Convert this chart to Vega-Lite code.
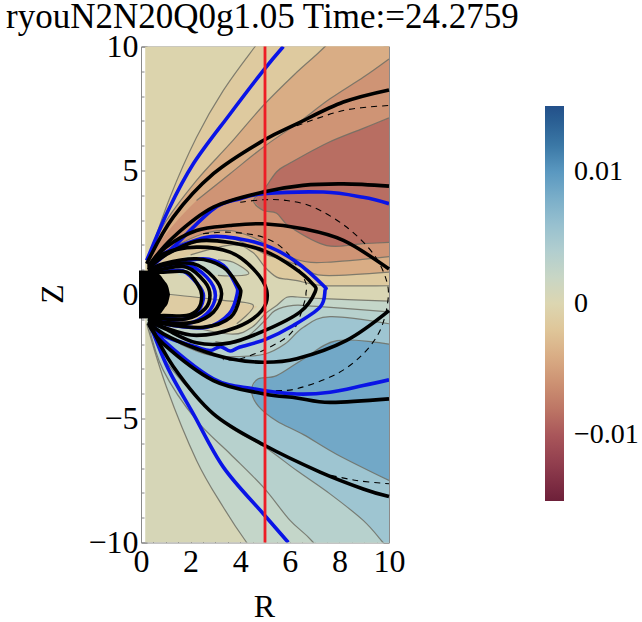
{"$schema":"https://vega.github.io/schema/vega-lite/v6.json","width":248,"height":496,"autosize":"none","padding":{"left":141,"top":46.5,"right":253,"bottom":79.5},"background":"white",
"title":{"text":"ryouN2N20Q0g1.05 Time:=24.2759","anchor":"start","frame":"group","dx":-135,"dy":20,"offset":16,"font":"Liberation Serif","fontSize":35,"fontWeight":"normal","color":"black"},
"config":{"view":{"stroke":null}},
"datasets":{
"bands":[
{"b":"a0","L":-0.0003,"R":0.17,"Z":10,"Z2":0},{"b":"a0","L":-0.0003,"R":10,"Z":10,"Z2":0},
{"b":"a1","L":0.0006,"R":0.17,"Z":0,"Z2":-10},{"b":"a1","L":0.0006,"R":10,"Z":0,"Z2":-10},
{"b":"c1","L":-0.0015,"R":0.23,"Z":1.24,"Z2":0},{"b":"c1","L":-0.0015,"R":1.17,"Z":3.92,"Z2":0},{"b":"c1","L":-0.0015,"R":2.24,"Z":6.34,"Z2":0},{"b":"c1","L":-0.0015,"R":3.32,"Z":8.23,"Z2":0},{"b":"c1","L":-0.0015,"R":4.6,"Z":10,"Z2":0},{"b":"c1","L":-0.0015,"R":6,"Z":11.8,"Z2":0},{"b":"c1","L":-0.0015,"R":10,"Z":15,"Z2":0},
{"b":"c2","L":-0.004,"R":0.3,"Z":1.3,"Z2":0},{"b":"c2","L":-0.004,"R":0.9,"Z":2.78,"Z2":0},{"b":"c2","L":-0.004,"R":2.24,"Z":4.6,"Z2":0},{"b":"c2","L":-0.004,"R":3.59,"Z":6.08,"Z2":0},{"b":"c2","L":-0.004,"R":4.93,"Z":7.62,"Z2":0},{"b":"c2","L":-0.004,"R":6.28,"Z":8.96,"Z2":0},{"b":"c2","L":-0.004,"R":7.42,"Z":10,"Z2":0},{"b":"c2","L":-0.004,"R":9,"Z":11.7,"Z2":0},{"b":"c2","L":-0.004,"R":10,"Z":12.8,"Z2":0},
{"b":"c3","L":-0.0058,"R":0.4,"Z":1.35,"Z2":0},{"b":"c3","L":-0.0058,"R":0.9,"Z":2.31,"Z2":0},{"b":"c3","L":-0.0058,"R":2.24,"Z":3.79,"Z2":0},{"b":"c3","L":-0.0058,"R":3.59,"Z":4.87,"Z2":0},{"b":"c3","L":-0.0058,"R":4.93,"Z":5.94,"Z2":0},{"b":"c3","L":-0.0058,"R":6.28,"Z":6.88,"Z2":0},{"b":"c3","L":-0.0058,"R":7.62,"Z":7.89,"Z2":0},{"b":"c3","L":-0.0058,"R":8.96,"Z":8.76,"Z2":0},{"b":"c3","L":-0.0058,"R":10,"Z":9.5,"Z2":0},
{"b":"d1","L":-0.0085,"R":4.53,"Z":3.79,"Z2":3.79},{"b":"d1","L":-0.0085,"R":4.93,"Z":4.19,"Z2":3.39},{"b":"d1","L":-0.0085,"R":5.47,"Z":4.95,"Z2":3.28},{"b":"d1","L":-0.0085,"R":6.01,"Z":5.3,"Z2":2.72},{"b":"d1","L":-0.0085,"R":7.49,"Z":6.1,"Z2":1.97},{"b":"d1","L":-0.0085,"R":8.96,"Z":6.7,"Z2":2.05},{"b":"d1","L":-0.0085,"R":10,"Z":7.12,"Z2":2.1},
{"b":"e1","L":-0.004,"R":0.4,"Z":1.2,"Z2":0},{"b":"e1","L":-0.004,"R":1.3,"Z":1.91,"Z2":0},{"b":"e1","L":-0.004,"R":2.51,"Z":2.45,"Z2":0},{"b":"e1","L":-0.004,"R":3.59,"Z":2.58,"Z2":0},{"b":"e1","L":-0.004,"R":4.66,"Z":2.24,"Z2":0},{"b":"e1","L":-0.004,"R":5.47,"Z":1.77,"Z2":0},{"b":"e1","L":-0.004,"R":6.41,"Z":1.37,"Z2":0},{"b":"e1","L":-0.004,"R":7.49,"Z":1.3,"Z2":0},{"b":"e1","L":-0.004,"R":10,"Z":1.53,"Z2":0},
{"b":"e2","L":-0.0015,"R":0.4,"Z":1.1,"Z2":0},{"b":"e2","L":-0.0015,"R":1.3,"Z":1.7,"Z2":0},{"b":"e2","L":-0.0015,"R":2.5,"Z":2.24,"Z2":0},{"b":"e2","L":-0.0015,"R":3.6,"Z":2.3,"Z2":0},{"b":"e2","L":-0.0015,"R":5,"Z":1.64,"Z2":0},{"b":"e2","L":-0.0015,"R":5.6,"Z":1.44,"Z2":0},{"b":"e2","L":-0.0015,"R":6.55,"Z":1.1,"Z2":0},{"b":"e2","L":-0.0015,"R":7.35,"Z":0.77,"Z2":0},{"b":"e2","L":-0.0015,"R":10,"Z":0.9,"Z2":0},
{"b":"f1","L":0.0024,"R":0.23,"Z":-1.18,"Z2":0},{"b":"f1","L":0.0024,"R":1.03,"Z":-3.74,"Z2":0},{"b":"f1","L":0.0024,"R":2.24,"Z":-6.69,"Z2":0},{"b":"f1","L":0.0024,"R":3.32,"Z":-8.58,"Z2":0},{"b":"f1","L":0.0024,"R":4.26,"Z":-10,"Z2":0},{"b":"f1","L":0.0024,"R":6,"Z":-12.3,"Z2":0},{"b":"f1","L":0.0024,"R":10,"Z":-17,"Z2":0},
{"b":"f2","L":0.0035,"R":0.3,"Z":-1.2,"Z2":0},{"b":"f2","L":0.0035,"R":0.9,"Z":-3.06,"Z2":0},{"b":"f2","L":0.0035,"R":2.24,"Z":-5.08,"Z2":0},{"b":"f2","L":0.0035,"R":3.59,"Z":-6.42,"Z2":0},{"b":"f2","L":0.0035,"R":4.93,"Z":-7.77,"Z2":0},{"b":"f2","L":0.0035,"R":6.01,"Z":-9.11,"Z2":0},{"b":"f2","L":0.0035,"R":6.95,"Z":-10,"Z2":0},{"b":"f2","L":0.0035,"R":8.5,"Z":-12,"Z2":0},{"b":"f2","L":0.0035,"R":10,"Z":-14,"Z2":0},
{"b":"f3","L":0.0055,"R":0.4,"Z":-1.2,"Z2":0},{"b":"f3","L":0.0055,"R":0.9,"Z":-2.53,"Z2":0},{"b":"f3","L":0.0055,"R":2.24,"Z":-4.14,"Z2":0},{"b":"f3","L":0.0055,"R":3.59,"Z":-5.35,"Z2":0},{"b":"f3","L":0.0055,"R":5,"Z":-6.16,"Z2":0},{"b":"f3","L":0.0055,"R":6.28,"Z":-7.1,"Z2":0},{"b":"f3","L":0.0055,"R":7.62,"Z":-8.04,"Z2":0},{"b":"f3","L":0.0055,"R":8.96,"Z":-9.11,"Z2":0},{"b":"f3","L":0.0055,"R":9.76,"Z":-10,"Z2":0},{"b":"f3","L":0.0055,"R":10,"Z":-10.3,"Z2":0},
{"b":"g1","L":0.0085,"R":4.46,"Z":-3.87,"Z2":-3.87},{"b":"g1","L":0.0085,"R":4.73,"Z":-3.4,"Z2":-4.5},{"b":"g1","L":0.0085,"R":5.47,"Z":-3.27,"Z2":-5.1},{"b":"g1","L":0.0085,"R":6.55,"Z":-2.6,"Z2":-5.65},{"b":"g1","L":0.0085,"R":7.9,"Z":-1.86,"Z2":-6.45},{"b":"g1","L":0.0085,"R":10,"Z":-2,"Z2":-7.5},
{"b":"h1","L":0.0035,"R":0.5,"Z":-1.1,"Z2":0},{"b":"h1","L":0.0035,"R":1.57,"Z":-1.99,"Z2":0},{"b":"h1","L":0.0035,"R":2.78,"Z":-2.45,"Z2":0},{"b":"h1","L":0.0035,"R":3.99,"Z":-2.5,"Z2":0},{"b":"h1","L":0.0035,"R":5,"Z":-2.4,"Z2":0},{"b":"h1","L":0.0035,"R":5.8,"Z":-2,"Z2":0},{"b":"h1","L":0.0035,"R":6.55,"Z":-1.32,"Z2":0},{"b":"h1","L":0.0035,"R":7.62,"Z":-0.89,"Z2":0},{"b":"h1","L":0.0035,"R":10,"Z":-1.18,"Z2":0},
{"b":"h2","L":0.0024,"R":0.5,"Z":-1,"Z2":0},{"b":"h2","L":0.0024,"R":1.5,"Z":-1.5,"Z2":0},{"b":"h2","L":0.0024,"R":3,"Z":-1.9,"Z2":0},{"b":"h2","L":0.0024,"R":4,"Z":-1.9,"Z2":0},{"b":"h2","L":0.0024,"R":5,"Z":-1.05,"Z2":0},{"b":"h2","L":0.0024,"R":5.4,"Z":-0.65,"Z2":0},{"b":"h2","L":0.0024,"R":6.14,"Z":-0.44,"Z2":0},{"b":"h2","L":0.0024,"R":7.09,"Z":-0.48,"Z2":0},{"b":"h2","L":0.0024,"R":10,"Z":-0.7,"Z2":0},
{"b":"j1","L":0.0003,"R":0.6,"Z":1,"Z2":-0.9},{"b":"j1","L":0.0003,"R":2,"Z":1.6,"Z2":-1.3},{"b":"j1","L":0.0003,"R":3.7,"Z":2,"Z2":-1.6},{"b":"j1","L":0.0003,"R":4.5,"Z":1.7,"Z2":-1.3},{"b":"j1","L":0.0003,"R":5,"Z":1.1,"Z2":-0.78},{"b":"j1","L":0.0003,"R":5.47,"Z":0.7,"Z2":-0.44},{"b":"j1","L":0.0003,"R":5.88,"Z":0.62,"Z2":-0.11},{"b":"j1","L":0.0003,"R":6.3,"Z":0.56,"Z2":-0.1},{"b":"j1","L":0.0003,"R":7.35,"Z":0.36,"Z2":-0.17},{"b":"j1","L":0.0003,"R":10,"Z":0.36,"Z2":-0.27},
{"b":"k1","L":0.0022,"R":1.5,"Z":1.3,"Z2":0.77},{"b":"k1","L":0.0022,"R":3.1,"Z":1.4,"Z2":0.77},{"b":"k1","L":0.0022,"R":3.72,"Z":1.3,"Z2":0.75},{"b":"k1","L":0.0022,"R":4.35,"Z":0.85,"Z2":0.85},
{"b":"k2","L":-0.0012,"R":0.7,"Z":-0.03,"Z2":-0.9},{"b":"k2","L":-0.0012,"R":1.98,"Z":-0.08,"Z2":-1.25},{"b":"k2","L":-0.0012,"R":3.32,"Z":-0.24,"Z2":-1.35},{"b":"k2","L":-0.0012,"R":3.86,"Z":-0.3,"Z2":-1.18},{"b":"k2","L":-0.0012,"R":4.53,"Z":-0.44,"Z2":-0.6},{"b":"k2","L":-0.0012,"R":4.7,"Z":-0.5,"Z2":-0.5}
],
"contours":[
{"s":"c1","R":0.23,"Z":1.24},{"s":"c1","R":1.17,"Z":3.92},{"s":"c1","R":2.24,"Z":6.34},{"s":"c1","R":3.32,"Z":8.23},{"s":"c1","R":4.6,"Z":10},{"s":"c1","R":6,"Z":11.8},{"s":"c1","R":10,"Z":15},
{"s":"c2","R":0.3,"Z":1.3},{"s":"c2","R":0.9,"Z":2.78},{"s":"c2","R":2.24,"Z":4.6},{"s":"c2","R":3.59,"Z":6.08},{"s":"c2","R":4.93,"Z":7.62},{"s":"c2","R":6.28,"Z":8.96},{"s":"c2","R":7.42,"Z":10},{"s":"c2","R":9,"Z":11.7},{"s":"c2","R":10,"Z":12.8},
{"s":"c3","R":2.24,"Z":3.79},{"s":"c3","R":3.59,"Z":4.87},{"s":"c3","R":4.93,"Z":5.94},{"s":"c3","R":6.28,"Z":6.88},{"s":"c3","R":7.62,"Z":7.89},{"s":"c3","R":8.96,"Z":8.76},{"s":"c3","R":10,"Z":9.5},
{"s":"d1","R":10,"Z":7.12},{"s":"d1","R":8.96,"Z":6.7},{"s":"d1","R":7.49,"Z":6.1},{"s":"d1","R":6.01,"Z":5.3},{"s":"d1","R":5.47,"Z":4.95},{"s":"d1","R":4.93,"Z":4.19},{"s":"d1","R":4.53,"Z":3.79},{"s":"d1","R":4.93,"Z":3.39},{"s":"d1","R":5.47,"Z":3.28},{"s":"d1","R":6.01,"Z":2.72},{"s":"d1","R":7.49,"Z":1.97},{"s":"d1","R":8.96,"Z":2.05},{"s":"d1","R":10,"Z":2.1},
{"s":"e1","R":1.3,"Z":1.91},{"s":"e1","R":2.51,"Z":2.45},{"s":"e1","R":3.59,"Z":2.58},{"s":"e1","R":4.66,"Z":2.24},{"s":"e1","R":5.47,"Z":1.77},{"s":"e1","R":6.41,"Z":1.37},{"s":"e1","R":7.49,"Z":1.3},{"s":"e1","R":10,"Z":1.53},
{"s":"e2","R":1.3,"Z":1.7},{"s":"e2","R":2.5,"Z":2.24},{"s":"e2","R":3.6,"Z":2.3},{"s":"e2","R":5,"Z":1.64},{"s":"e2","R":5.6,"Z":1.44},{"s":"e2","R":6.55,"Z":1.1},{"s":"e2","R":7.35,"Z":0.77},{"s":"e2","R":10,"Z":0.9},
{"s":"j1","R":2,"Z":1.6},{"s":"j1","R":3.7,"Z":2},{"s":"j1","R":4.5,"Z":1.7},{"s":"j1","R":5,"Z":1.1},{"s":"j1","R":5.47,"Z":0.7},{"s":"j1","R":5.88,"Z":0.62},{"s":"j1","R":6.3,"Z":0.56},{"s":"j1","R":7.35,"Z":0.36},{"s":"j1","R":10,"Z":0.36},
{"s":"j2","R":2,"Z":-1.3},{"s":"j2","R":3.7,"Z":-1.6},{"s":"j2","R":4.5,"Z":-1.3},{"s":"j2","R":5,"Z":-0.78},{"s":"j2","R":5.47,"Z":-0.44},{"s":"j2","R":5.88,"Z":-0.11},{"s":"j2","R":6.3,"Z":-0.1},{"s":"j2","R":7.35,"Z":-0.17},{"s":"j2","R":10,"Z":-0.27},
{"s":"k1","R":3.1,"Z":0.77},{"s":"k1","R":3.72,"Z":0.75},{"s":"k1","R":4.35,"Z":0.85},{"s":"k1","R":3.72,"Z":1.3},{"s":"k1","R":3.1,"Z":1.4},
{"s":"k2","R":0.85,"Z":0.03},{"s":"k2","R":1.98,"Z":-0.08},{"s":"k2","R":3.32,"Z":-0.24},{"s":"k2","R":4.53,"Z":-0.44},{"s":"k2","R":3.86,"Z":-1.18},
{"s":"f1","R":0.23,"Z":-1.18},{"s":"f1","R":1.03,"Z":-3.74},{"s":"f1","R":2.24,"Z":-6.69},{"s":"f1","R":3.32,"Z":-8.58},{"s":"f1","R":4.26,"Z":-10},{"s":"f1","R":6,"Z":-12.3},{"s":"f1","R":10,"Z":-17},
{"s":"f2","R":0.3,"Z":-1.2},{"s":"f2","R":0.9,"Z":-3.06},{"s":"f2","R":2.24,"Z":-5.08},{"s":"f2","R":3.59,"Z":-6.42},{"s":"f2","R":4.93,"Z":-7.77},{"s":"f2","R":6.01,"Z":-9.11},{"s":"f2","R":6.95,"Z":-10},{"s":"f2","R":8.5,"Z":-12},{"s":"f2","R":10,"Z":-14},
{"s":"f3","R":0.4,"Z":-1.2},{"s":"f3","R":0.9,"Z":-2.53},{"s":"f3","R":2.24,"Z":-4.14},{"s":"f3","R":3.59,"Z":-5.35},{"s":"f3","R":5,"Z":-6.16},{"s":"f3","R":6.28,"Z":-7.1},{"s":"f3","R":7.62,"Z":-8.04},{"s":"f3","R":8.96,"Z":-9.11},{"s":"f3","R":9.76,"Z":-10},{"s":"f3","R":10,"Z":-10.3},
{"s":"g1","R":10,"Z":-7.5},{"s":"g1","R":7.9,"Z":-6.45},{"s":"g1","R":6.55,"Z":-5.65},{"s":"g1","R":5.47,"Z":-5.1},{"s":"g1","R":4.73,"Z":-4.5},{"s":"g1","R":4.46,"Z":-3.87},{"s":"g1","R":4.73,"Z":-3.4},{"s":"g1","R":5.47,"Z":-3.27},{"s":"g1","R":6.55,"Z":-2.6},{"s":"g1","R":7.9,"Z":-1.86},{"s":"g1","R":10,"Z":-2},
{"s":"h1","R":1.57,"Z":-1.99},{"s":"h1","R":2.78,"Z":-2.45},{"s":"h1","R":3.99,"Z":-2.5},{"s":"h1","R":5,"Z":-2.4},{"s":"h1","R":5.8,"Z":-2},{"s":"h1","R":6.55,"Z":-1.32},{"s":"h1","R":7.62,"Z":-0.89},{"s":"h1","R":10,"Z":-1.18},
{"s":"h2","R":3,"Z":-1.9},{"s":"h2","R":4,"Z":-1.9},{"s":"h2","R":5,"Z":-1.05},{"s":"h2","R":5.4,"Z":-0.65},{"s":"h2","R":6.14,"Z":-0.44},{"s":"h2","R":7.09,"Z":-0.48},{"s":"h2","R":10,"Z":-0.7}
],
"dashed":[
{"s":"a","R":6.28,"Z":6.8},{"s":"a","R":8.16,"Z":7.42},{"s":"a","R":10,"Z":7.62},
{"s":"b","R":7.22,"Z":-7.2},{"s":"b","R":8.7,"Z":-7.5},{"s":"b","R":10,"Z":-7.63},
{"s":"c","R":4,"Z":3.72},{"s":"c","R":4.93,"Z":3.82},{"s":"c","R":5.87,"Z":3.79},{"s":"c","R":6.95,"Z":3.52},{"s":"c","R":8.29,"Z":2.72},{"s":"c","R":9.37,"Z":1.64},{"s":"c","R":9.9,"Z":0.56},{"s":"c","R":9.95,"Z":-0.3},{"s":"c","R":9.64,"Z":-1.45},{"s":"c","R":8.96,"Z":-2.39},{"s":"c","R":7.89,"Z":-3.2},{"s":"c","R":6.28,"Z":-3.8},{"s":"c","R":5.2,"Z":-3.87},{"s":"c","R":4.4,"Z":-3.8},
{"s":"d","R":2.5,"Z":2.45},{"s":"d","R":3.59,"Z":2.51},{"s":"d","R":4.93,"Z":2.31},{"s":"d","R":5.87,"Z":1.71},{"s":"d","R":6.61,"Z":0.56},{"s":"d","R":6.65,"Z":0.03},{"s":"d","R":6.61,"Z":-0.24},{"s":"d","R":6.14,"Z":-1.45},{"s":"d","R":5.2,"Z":-2.12},{"s":"d","R":3.99,"Z":-2.6},{"s":"d","R":3.3,"Z":-2.62}
],
"blue":[
{"s":"a1","R":0.23,"Z":1.37},{"s":"a1","R":1.1,"Z":3.4},{"s":"a1","R":2.11,"Z":5.27},{"s":"a1","R":3.59,"Z":7.28},{"s":"a1","R":4.93,"Z":9.03},{"s":"a1","R":5.74,"Z":10},
{"s":"a2","R":0.36,"Z":-1.18},{"s":"a2","R":1.1,"Z":-3},{"s":"a2","R":2.11,"Z":-4.81},{"s":"a2","R":3.32,"Z":-6.96},{"s":"a2","R":4.93,"Z":-8.84},{"s":"a2","R":5.94,"Z":-10},
{"s":"b1","R":0.4,"Z":1.1},{"s":"b1","R":1.3,"Z":1.91},{"s":"b1","R":2.92,"Z":3.45},{"s":"b1","R":4,"Z":3.86},{"s":"b1","R":4.93,"Z":4.06},{"s":"b1","R":7.35,"Z":4.13},{"s":"b1","R":8.96,"Z":3.92},{"s":"b1","R":10,"Z":3.66},
{"s":"b2","R":0.4,"Z":-1.1},{"s":"b2","R":0.9,"Z":-1.85},{"s":"b2","R":2.92,"Z":-3.4},{"s":"b2","R":4.53,"Z":-3.8},{"s":"b2","R":6.28,"Z":-4.01},{"s":"b2","R":7.62,"Z":-3.94},{"s":"b2","R":8.96,"Z":-3.67},{"s":"b2","R":10,"Z":-3.44},
{"s":"c","R":0.4,"Z":1.05},{"s":"c","R":0.9,"Z":1.64},{"s":"c","R":2.65,"Z":2.31},{"s":"c","R":3.99,"Z":2.24},{"s":"c","R":5.2,"Z":1.91},{"s":"c","R":6.28,"Z":1.3},{"s":"c","R":7.35,"Z":0.36},{"s":"c","R":7.42,"Z":0.16},{"s":"c","R":7.22,"Z":-0.51},{"s":"c","R":6.14,"Z":-1.25},{"s":"c","R":5,"Z":-1.82},{"s":"c","R":3.99,"Z":-2.12},{"s":"c","R":3.59,"Z":-2.28},{"s":"c","R":3.2,"Z":-2.1},{"s":"c","R":2.78,"Z":-2.26},{"s":"c","R":2.24,"Z":-2.12},{"s":"c","R":0.9,"Z":-1.65},{"s":"c","R":0.4,"Z":-1.05},
{"s":"d","R":0.4,"Z":1},{"s":"d","R":1.3,"Z":1.24},{"s":"d","R":2.51,"Z":1.44},{"s":"d","R":3.32,"Z":1.17},{"s":"d","R":3.8,"Z":0.43},{"s":"d","R":3.88,"Z":0.03},{"s":"d","R":3.55,"Z":-0.78},{"s":"d","R":2.65,"Z":-1.32},{"s":"d","R":1.3,"Z":-1.25},{"s":"d","R":0.4,"Z":-1},
{"s":"e","R":0.4,"Z":0.95},{"s":"e","R":0.9,"Z":1.03},{"s":"e","R":1.84,"Z":1.2},{"s":"e","R":2.65,"Z":0.7},{"s":"e","R":3,"Z":-0.04},{"s":"e","R":2.65,"Z":-0.78},{"s":"e","R":1.84,"Z":-1.18},{"s":"e","R":0.9,"Z":-1.05},{"s":"e","R":0.4,"Z":-0.95},
{"s":"f","R":0.4,"Z":0.9},{"s":"f","R":0.9,"Z":0.92},{"s":"f","R":1.7,"Z":0.95},{"s":"f","R":2.3,"Z":0.4},{"s":"f","R":2.52,"Z":-0.05},{"s":"f","R":2.3,"Z":-0.65},{"s":"f","R":1.7,"Z":-1},{"s":"f","R":0.9,"Z":-0.9},{"s":"f","R":0.4,"Z":-0.9}
],
"black":[
{"s":"a1","R":0.23,"Z":1.24},{"s":"a1","R":1.3,"Z":3.12},{"s":"a1","R":2.92,"Z":4.87},{"s":"a1","R":4.93,"Z":6.21},{"s":"a1","R":6.28,"Z":6.88},{"s":"a1","R":8.16,"Z":7.76},{"s":"a1","R":10,"Z":8.25},
{"s":"a2","R":0.36,"Z":-1.18},{"s":"a2","R":1.3,"Z":-2.9},{"s":"a2","R":2.92,"Z":-4.81},{"s":"a2","R":5,"Z":-6.09},{"s":"a2","R":7.22,"Z":-7.16},{"s":"a2","R":8.96,"Z":-7.84},{"s":"a2","R":10,"Z":-8.15},
{"s":"b1","R":0.3,"Z":1.15},{"s":"b1","R":1.3,"Z":2.31},{"s":"b1","R":2.92,"Z":3.52},{"s":"b1","R":4.93,"Z":4.13},{"s":"b1","R":6.53,"Z":4.4},{"s":"b1","R":8.16,"Z":4.46},{"s":"b1","R":10,"Z":4.37},
{"s":"b2","R":0.3,"Z":-1.15},{"s":"b2","R":0.9,"Z":-1.99},{"s":"b2","R":2.92,"Z":-3.47},{"s":"b2","R":4.93,"Z":-4},{"s":"b2","R":6.28,"Z":-4.17},{"s":"b2","R":7.62,"Z":-4.35},{"s":"b2","R":10,"Z":-4.21},
{"s":"c1","R":0.3,"Z":1.1},{"s":"c1","R":1,"Z":1.9},{"s":"c1","R":2.24,"Z":2.58},{"s":"c1","R":3.59,"Z":2.78},{"s":"c1","R":4.93,"Z":2.85},{"s":"c1","R":6.53,"Z":2.65},{"s":"c1","R":8.16,"Z":2.18},{"s":"c1","R":10,"Z":1.03},
{"s":"c2","R":0.3,"Z":-1.1},{"s":"c2","R":0.9,"Z":-1.59},{"s":"c2","R":2.24,"Z":-2.19},{"s":"c2","R":3.59,"Z":-2.59},{"s":"c2","R":4.93,"Z":-2.73},{"s":"c2","R":6.28,"Z":-2.59},{"s":"c2","R":8.29,"Z":-1.85},{"s":"c2","R":10,"Z":-0.65},
{"s":"d","R":0.3,"Z":1.05},{"s":"d","R":1,"Z":1.6},{"s":"d","R":2.24,"Z":2.15},{"s":"d","R":3.59,"Z":2.1},{"s":"d","R":5,"Z":1.75},{"s":"d","R":6.14,"Z":1.1},{"s":"d","R":6.9,"Z":0.45},{"s":"d","R":7.02,"Z":0.1},{"s":"d","R":6.41,"Z":-0.71},{"s":"d","R":5,"Z":-1.45},{"s":"d","R":3.59,"Z":-1.95},{"s":"d","R":2.24,"Z":-1.95},{"s":"d","R":1,"Z":-1.4},{"s":"d","R":0.3,"Z":-1.05},
{"s":"e","R":0.3,"Z":1},{"s":"e","R":0.9,"Z":1.64},{"s":"e","R":2.24,"Z":1.91},{"s":"e","R":3.59,"Z":1.71},{"s":"e","R":4.53,"Z":1.03},{"s":"e","R":5.07,"Z":0.16},{"s":"e","R":4.87,"Z":-0.65},{"s":"e","R":3.86,"Z":-1.32},{"s":"e","R":2.24,"Z":-1.65},{"s":"e","R":0.9,"Z":-1.32},{"s":"e","R":0.3,"Z":-1},
{"s":"f","R":0.3,"Z":0.95},{"s":"f","R":0.9,"Z":1.24},{"s":"f","R":2.24,"Z":1.44},{"s":"f","R":3.32,"Z":1.1},{"s":"f","R":3.92,"Z":0.36},{"s":"f","R":4,"Z":-0.04},{"s":"f","R":3.62,"Z":-0.91},{"s":"f","R":2.51,"Z":-1.32},{"s":"f","R":0.9,"Z":-1.18},{"s":"f","R":0.3,"Z":-0.95},
{"s":"g","R":0.3,"Z":0.9},{"s":"g","R":0.9,"Z":1.17},{"s":"g","R":2.11,"Z":1.24},{"s":"g","R":2.92,"Z":0.7},{"s":"g","R":3.25,"Z":0.03},{"s":"g","R":2.92,"Z":-0.71},{"s":"g","R":2.11,"Z":-1.12},{"s":"g","R":0.9,"Z":-1.12},{"s":"g","R":0.3,"Z":-0.9},
{"s":"h","R":0.3,"Z":0.9},{"s":"h","R":0.9,"Z":1.03},{"s":"h","R":1.84,"Z":1.1},{"s":"h","R":2.58,"Z":0.5},{"s":"h","R":2.78,"Z":-0.04},{"s":"h","R":2.58,"Z":-0.58},{"s":"h","R":1.84,"Z":-0.98},{"s":"h","R":0.9,"Z":-0.98},{"s":"h","R":0.3,"Z":-0.9},
{"s":"i","R":0.3,"Z":0.9},{"s":"i","R":0.9,"Z":0.9},{"s":"i","R":1.84,"Z":0.9},{"s":"i","R":2.31,"Z":0.36},{"s":"i","R":2.45,"Z":-0.04},{"s":"i","R":2.31,"Z":-0.58},{"s":"i","R":1.84,"Z":-0.85},{"s":"i","R":0.9,"Z":-0.85},{"s":"i","R":0.3,"Z":-0.9}
],
"blob":[{"R":-0.08,"Z":0.97,"Z2":-0.97},{"R":0.3,"Z":0.96,"Z2":-0.96},{"R":0.7,"Z":0.85,"Z2":-0.85},{"R":0.95,"Z":0.55,"Z2":-0.55},{"R":1.1,"Z":0.3,"Z2":-0.3},{"R":1.17,"Z":0,"Z2":0}],
"red":[{"R":5,"Z":-10},{"R":5,"Z":10}]
},
"layer":[
{"data":{"name":"bands"},"mark":{"type":"area","orient":"vertical","interpolate":"cardinal","clip":true},
"encoding":{
"x":{"field":"R","type":"quantitative","scale":{"domain":[0,10],"nice":false,"zero":false},
 "axis":{"orient":"bottom","title":"R","titleFont":"Liberation Serif","titleFontSize":32,"titleFontWeight":"normal","titleColor":"black","titleX":123,"titleY":74,"titleBaseline":"alphabetic","values":[0,0.5,1,1.5,2,2.5,3,3.5,4,4.5,5,5.5,6,6.5,7,7.5,8,8.5,9,9.5,10],"labelExpr":"datum.value%2==0?datum.value:''","labelFont":"Liberation Serif","labelFontSize":32,"labelColor":"black","labelPadding":10,"labelOverlap":false,"labelBound":false,"labelFlush":false,"labelAngle":0,"grid":false,"tickColor":"#666666","tickWidth":0.8,"tickSize":{"condition":{"test":"datum.value%2==0","value":-6},"value":-3},"domainColor":"#8a8a8a","domainWidth":1}},
"y":{"field":"Z","type":"quantitative","scale":{"domain":[-10,10],"nice":false,"zero":false},
 "axis":{"orient":"left","title":"Z","titleFont":"Liberation Serif","titleFontSize":32,"titleFontWeight":"normal","titleColor":"black","titleX":-79,"titleY":247,"titleBaseline":"alphabetic","titleAngle":-90,"values":[-10,-9,-8,-7,-6,-5,-4,-3,-2,-1,0,1,2,3,4,5,6,7,8,9,10],"labelExpr":"datum.value%5==0?(datum.value<0?'−'+abs(datum.value):datum.value):''","labelFont":"Liberation Serif","labelFontSize":32,"labelColor":"black","labelPadding":9,"labelOverlap":false,"labelBound":false,"labelFlush":false,"grid":false,"tickColor":"#666666","tickWidth":0.8,"tickSize":{"condition":{"test":"datum.value%5==0","value":-6},"value":-3},"domainColor":"#8a8a8a","domainWidth":1}},
"y2":{"field":"Z2"},
"detail":{"field":"b"},
"color":{"field":"L","type":"quantitative","scale":{"domain":[-0.015,-0.0125,-0.01,-0.0075,-0.005,-0.0025,0,0.0025,0.005,0.0075,0.01,0.0125,0.015],"range":["#6d2039","#8e3a4c","#a9565a","#c27e68","#d59f7b","#e0c293","#dcd6b1","#c3d6ca","#a5c9d2","#82b3cb","#5a98c0","#33709f","#23508a"],"interpolate":"rgb"},
 "legend":{"orient":"none","legendX":404,"legendY":59.5,"gradientLength":395,"gradientThickness":19,"title":null,"values":[-0.01,0,0.01],"labelExpr":"datum.value==0?'0':(datum.value>0?'0.01':'−0.01')","labelFont":"Liberation Serif","labelFontSize":28,"labelColor":"black","labelOffset":10,"gradientStrokeWidth":0,"labelOverlap":false}}
}},
{"data":{"name":"contours"},"mark":{"type":"line","color":"#6e6e64","strokeWidth":1.2,"opacity":0.85,"interpolate":"cardinal","clip":true},"encoding":{"x":{"field":"R","type":"quantitative","axis":null},"y":{"field":"Z","type":"quantitative","axis":null},"detail":{"field":"s"},"order":{"value":null}}},
{"data":{"name":"dashed"},"mark":{"type":"line","color":"black","strokeWidth":1.1,"strokeDash":[6,5],"interpolate":"cardinal"},"encoding":{"x":{"field":"R","type":"quantitative","axis":null},"y":{"field":"Z","type":"quantitative","axis":null},"detail":{"field":"s"},"order":{"value":null}}},
{"data":{"name":"blue"},"mark":{"type":"line","color":"#0a14e6","strokeWidth":3.6,"interpolate":"cardinal","clip":true},"encoding":{"x":{"field":"R","type":"quantitative","axis":null},"y":{"field":"Z","type":"quantitative","axis":null},"detail":{"field":"s"},"order":{"value":null}}},
{"data":{"name":"black"},"mark":{"type":"line","color":"black","strokeWidth":3.6,"interpolate":"cardinal"},"encoding":{"x":{"field":"R","type":"quantitative","axis":null},"y":{"field":"Z","type":"quantitative","axis":null},"detail":{"field":"s"},"order":{"value":null}}},
{"data":{"name":"blob"},"mark":{"type":"area","orient":"vertical","color":"black","interpolate":"monotone"},"encoding":{"x":{"field":"R","type":"quantitative","axis":null},"y":{"field":"Z","type":"quantitative","axis":null},"y2":{"field":"Z2"}}},
{"data":{"name":"red"},"mark":{"type":"line","color":"#ee1c25","strokeWidth":2.8},"encoding":{
"x":{"field":"R","type":"quantitative","axis":{"orient":"top","title":null,"labels":false,"values":[0,0.5,1,1.5,2,2.5,3,3.5,4,4.5,5,5.5,6,6.5,7,7.5,8,8.5,9,9.5,10],"grid":false,"tickColor":"#666666","tickWidth":0.8,"tickSize":{"condition":{"test":"datum.value%2==0","value":-6},"value":-3},"domainColor":"#8a8a8a","domainWidth":1}},
"y":{"field":"Z","type":"quantitative","axis":{"orient":"right","title":null,"labels":false,"values":[-10,-9,-8,-7,-6,-5,-4,-3,-2,-1,0,1,2,3,4,5,6,7,8,9,10],"grid":false,"tickColor":"#666666","tickWidth":0.8,"tickSize":{"condition":{"test":"datum.value%5==0","value":-6},"value":-3},"domainColor":"#8a8a8a","domainWidth":1}},
"order":{"value":null}}}
],
"resolve":{"axis":{"x":"independent","y":"independent"}}
}
